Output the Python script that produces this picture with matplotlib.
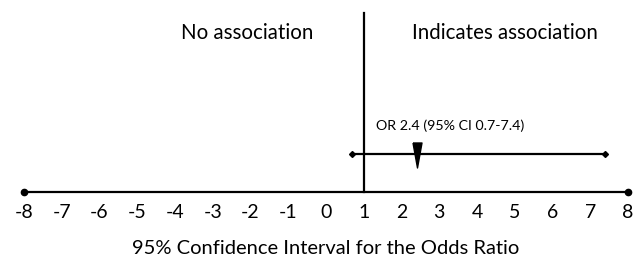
import matplotlib.pyplot as plt
import numpy as np

# data
ticks = list(range(-8, 9))
null_value = 1
odds_ratio = 2.4
ci_low = 0.7
ci_high = 7.4
or_label = "OR 2.4 (95% CI 0.7-7.4)"
left_label = "No association"
right_label = "Indicates association"
xlabel = "95% Confidence Interval for the Odds Ratio"

plt.rcParams['font.family'] = ['Lato', 'DejaVu Sans']

fig = plt.figure(figsize=(6.44, 2.59), dpi=100)
ax = fig.add_axes([0, 0, 1, 1])
# px per unit ~37.75, -8 sits at x=24px
ax.set_xlim(-8 - 24 / 37.75, 8 + 16 / 37.75)
ax.set_ylim(259, 0)
ax.axis('off')

axis_y = 192
ci_y = 154

# main number line with end dots
ax.plot([ticks[0], ticks[-1]], [axis_y, axis_y], color='black', lw=1.6, zorder=2)
ax.plot([ticks[0], ticks[-1]], [axis_y, axis_y], 'o', color='black', ms=4.5, zorder=3)

# line of no effect
ax.plot([null_value, null_value], [13, axis_y], color='black', lw=1.6)

# tick labels
for t in ticks:
    ax.text(t, 213, str(t), ha='center', va='center', fontsize=14)

ax.text(np.mean(ticks), 248, xlabel, ha='center', va='center', fontsize=14.5)

# confidence interval
ax.plot([ci_low, ci_high], [ci_y, ci_y], color='black', lw=1.6, zorder=2)
ax.plot([ci_low, ci_high], [ci_y, ci_y], 'D', color='black', ms=3, zorder=3)
tri = [(-0.36, 1), (0.36, 1), (0, -1), (-0.36, 1)]
ax.plot([odds_ratio], [ci_y + 1], marker=tri, color='black', ms=18, zorder=4)
ax.text(3.3, 126, or_label, ha='center', va='center', fontsize=10.3)

ax.text(-2.1, 33, left_label, ha='center', va='center', fontsize=14.8)
ax.text(4.75, 33, right_label, ha='center', va='center', fontsize=14.8)

fig.savefig('out.png', dpi=100)
